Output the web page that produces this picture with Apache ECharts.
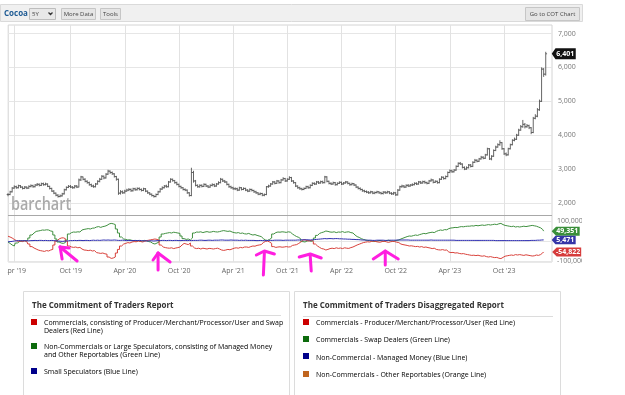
<!DOCTYPE html>
<html>
<head>
<meta charset="utf-8">
<script src="https://cdn.jsdelivr.net/npm/echarts@6/dist/echarts.min.js"></script>
<style>
html, body { margin: 0; padding: 0; background: #fff; }
#chart { width: 625px; height: 395px; }
</style>
</head>
<body>
<div id="chart"></div>
<script>
// weekly bars, first week = Monday 11 Mar 2019, five years shown
const startDate = '2019-03-11'
const weekCount = 262

// cocoa weekly close / high / low
const priceClose = [
  2250,2330,2440,2480,2450,2510,2470,2430,2470,2440,
  2490,2510,2480,2530,2550,2520,2570,2540,2560,2490,
  2430,2350,2290,2230,2190,2210,2270,2390,2460,2490,
  2470,2450,2500,2470,2680,2770,2700,2640,2600,2540,
  2500,2480,2560,2640,2700,2790,2740,2850,2940,2900,
  2860,2780,2700,2290,2330,2300,2350,2380,2400,2360,
  2420,2390,2430,2400,2370,2420,2350,2300,2260,2220,
  2190,2250,2330,2410,2450,2500,2480,2620,2700,2660,
  2600,2550,2490,2450,2400,2380,2300,2220,2900,2650,
  2520,2480,2520,2490,2550,2500,2470,2520,2540,2500,
  2560,2600,2700,2650,2620,2550,2480,2450,2420,2420,
  2380,2450,2400,2430,2380,2350,2400,2370,2330,2300,
  2260,2280,2230,2250,2480,2500,2560,2620,2580,2650,
  2600,2680,2720,2650,2700,2750,2650,2600,2500,2450,
  2420,2400,2430,2480,2450,2520,2580,2560,2620,2590,
  2630,2600,2770,2640,2580,2560,2600,2540,2580,2610,
  2560,2590,2620,2580,2540,2570,2530,2470,2430,2400,
  2360,2340,2320,2300,2330,2290,2310,2330,2300,2280,
  2320,2300,2330,2290,2270,2300,2240,2380,2480,2500,
  2470,2520,2500,2530,2540,2580,2560,2620,2590,2630,
  2600,2580,2650,2680,2610,2640,2600,2700,2760,2720,
  2780,2900,2950,2920,2970,3080,3170,3150,3050,3000,
  3040,3120,3080,3200,3260,3230,3300,3350,3320,3420,
  3600,3300,3380,3550,3650,3720,3780,3600,3450,3420,
  3600,3720,3850,3880,4000,4150,4250,4320,4250,4280,
  4220,4080,4500,4560,4750,5000,5950,5800,6401
]
const priceHigh = [
  2290,2360,2470,2520,2510,2540,2530,2490,2500,2490,
  2520,2550,2540,2560,2590,2580,2600,2600,2600,2580,
  2510,2450,2380,2310,2260,2250,2300,2420,2490,2530,
  2530,2500,2530,2530,2720,2800,2780,2730,2670,2630,
  2570,2540,2590,2670,2740,2820,2810,2880,2980,2960,
  2930,2880,2800,2720,2380,2370,2390,2420,2440,2430,
  2450,2450,2460,2460,2430,2450,2440,2370,2320,2280,
  2240,2280,2360,2440,2490,2530,2540,2650,2730,2720,
  2680,2630,2570,2510,2470,2430,2400,2320,3040,2950,
  2680,2550,2550,2550,2580,2570,2530,2550,2580,2570,
  2590,2640,2740,2720,2680,2640,2570,2510,2480,2460,
  2450,2480,2470,2460,2450,2410,2430,2420,2390,2360,
  2320,2310,2300,2280,2500,2540,2590,2650,2650,2680,
  2670,2710,2760,2740,2730,2790,2770,2670,2620,2520,
  2480,2450,2460,2510,2510,2550,2610,2610,2650,2650,
  2660,2660,2800,2790,2660,2610,2630,2620,2610,2640,
  2630,2620,2650,2640,2600,2600,2590,2550,2490,2460,
  2420,2390,2370,2350,2360,2350,2340,2360,2350,2330,
  2350,2350,2360,2350,2320,2330,2320,2410,2510,2540,
  2530,2550,2560,2560,2580,2610,2610,2650,2650,2660,
  2660,2630,2680,2720,2700,2670,2660,2730,2790,2780,
  2810,2930,2990,2980,3000,3110,3200,3210,3170,3080,
  3080,3150,3150,3230,3300,3290,3330,3390,3380,3450,
  3630,3620,3410,3580,3690,3760,3850,3800,3620,3490,
  3630,3750,3880,3930,4040,4190,4300,4450,4360,4330,
  4310,4240,4540,4620,4800,5050,6000,5980,6460
]
const priceLow = [
  2200,2230,2310,2420,2420,2430,2440,2400,2410,2410,
  2420,2460,2450,2460,2500,2490,2500,2510,2520,2470,
  2400,2330,2260,2200,2160,2170,2190,2250,2370,2440,
  2440,2420,2430,2440,2460,2650,2670,2610,2570,2510,
  2470,2450,2460,2540,2610,2680,2700,2720,2830,2860,
  2830,2750,2660,2240,2250,2270,2280,2330,2350,2330,
  2340,2360,2370,2370,2340,2350,2320,2270,2230,2190,
  2160,2170,2230,2310,2390,2430,2450,2460,2600,2630,
  2570,2520,2460,2420,2370,2350,2270,2190,2200,2600,
  2490,2450,2450,2460,2470,2470,2440,2450,2490,2470,
  2480,2540,2580,2620,2590,2520,2450,2420,2390,2380,
  2350,2360,2370,2380,2350,2320,2330,2340,2300,2270,
  2230,2230,2200,2200,2230,2450,2480,2540,2550,2560,
  2570,2580,2660,2620,2630,2680,2620,2570,2470,2420,
  2390,2370,2380,2410,2420,2430,2500,2530,2540,2560,
  2570,2570,2580,2610,2550,2530,2540,2510,2520,2560,
  2530,2540,2570,2550,2510,2520,2500,2440,2400,2370,
  2330,2310,2290,2270,2280,2260,2260,2280,2270,2250,
  2250,2270,2280,2260,2240,2240,2210,2220,2360,2450,
  2440,2450,2470,2480,2500,2520,2530,2540,2560,2570,
  2570,2550,2560,2630,2580,2590,2570,2580,2680,2690,
  2700,2760,2880,2890,2900,2950,3060,3120,3020,2970,
  2980,3020,3050,3060,3180,3200,3210,3280,3290,3300,
  3400,3270,3260,3360,3530,3630,3690,3570,3420,3380,
  3400,3580,3700,3820,3860,3980,4130,4220,4200,4220,
  4180,4030,4060,4470,4530,4720,4980,5720,5760
]

// net positions, thousands of contracts
const cotGreen = [
  -5,-12,-20,-25,
  -10,-3,0,2,0,3,
  15,30,40,
  48,50,52,55,54,56,55,50,48,
  30,10,-5,
  -10,-12,-8,5,
  35,42,45,44,46,45,
  55,58,60,62,60,64,65,
  70,72,68,72,74,78,
  85,88,86,82,
  60,40,20,
  10,8,5,6,3,
  2,0,2,-2,0,3,1,-3,-5,
  -12,-15,-10,-5,
  20,35,38,40,
  42,40,44,42,40,38,
  25,12,8,10,5,15,
  40,45,44,46,42,45,47,44,45,48,46,45,47,
  50,52,50,48,50,45,
  42,40,42,38,40,36,35,38,33,30,32,28,25,22,
  12,5,3,8,15,
  35,42,45,44,46,45,43,46,44,
  35,28,22,18,10,
  -3,-5,0,2,-2,3,
  15,28,38,42,45,50,48,
  45,44,46,42,45,44,47,43,45,46,42,40,
  30,22,18,12,8,
  5,3,2,0,-3,-2,1,3,0,-2,2,4,1,-1,0,3,5,
  10,14,18,22,25,24,27,30,28,
  32,35,38,36,40,42,44,42,
  48,52,55,53,57,56,
  62,65,66,68,67,70,72,71,73,74,
  74,76,75,78,76,78,80,78,80,82,80,82,84,82,86,88,
  82,78,76,74,72,74,70,72,70,72,74,72,74,76,78,
  76,74,70,66,58,49.351
]
const cotRed = [
  24,20,15,8,
  2,-2,0,-3,1,-2,
  -15,-28,-35,
  -40,-45,-48,-50,-52,-48,-50,-45,-42,
  -20,0,10,
  15,16,12,0,
  -25,-30,-32,-30,-34,-32,
  -40,-45,-46,-48,-46,-50,-48,
  -58,-60,-62,-60,-64,-66,
  -80,-87,-85,-80,
  -60,-42,-25,
  -15,-12,-8,-10,-5,
  -3,-4,0,-2,-5,-2,2,4,6,
  8,10,8,4,
  -20,-30,-33,-35,
  -36,-34,-38,-35,-33,-30,
  -20,-12,-15,-18,-10,-25,
  -35,-38,-36,-40,-36,-38,-40,-37,-38,-40,-38,-36,-40,
  -45,-47,-45,-42,-44,-40,
  -36,-34,-36,-32,-34,-30,-30,-32,-28,-25,-26,-22,-20,-18,
  -8,-2,0,-5,-12,
  -28,-32,-30,-29,-31,-30,-28,-30,-29,
  -22,-20,-18,-12,-5,
  5,6,2,0,3,-2,
  -15,-25,-32,-38,-40,-45,-42,
  -38,-36,-38,-34,-37,-35,-38,-34,-36,-37,-33,-30,
  -25,-20,-16,-12,-8,
  -6,-4,-5,-2,0,-3,-5,-6,-3,-1,-4,-7,-4,-2,-3,-6,-8,
  -15,-18,-20,-22,-25,-24,-26,-28,-27,
  -30,-28,-32,-30,-33,-35,-38,-36,
  -42,-44,-45,-43,-46,-45,
  -55,-58,-57,-60,-59,-62,-64,-63,-66,-68,
  -70,-72,-71,-73,-71,-74,-76,-74,-78,-80,-78,-81,-83,-82,-86,-88,
  -82,-76,-74,-72,-70,-72,-68,-70,-68,-70,-72,-69,-71,-73,-75,
  -74,-70,-72,-68,-60,-54.822
]
const cotBlue = [
  -4,-3,-2,0,1,2,2,1,2,1,
  1,2,2,3,2,3,3,2,3,2,
  2,3,2,1,0,-1,-2,-1,0,1,
  2,2,3,2,3,3,2,3,3,2,
  3,4,3,4,3,4,5,4,5,4,
  4,5,4,3,3,4,3,2,3,2,
  2,3,2,3,2,1,1,0,1,1,
  0,1,2,2,3,3,2,3,3,2,
  3,3,2,2,3,3,2,3,2,3,
  3,3,4,4,3,3,4,4,3,4,
  4,4,5,5,4,4,4,5,4,4,
  4,3,4,3,4,3,3,3,3,2,
  2,3,2,2,2,3,3,3,4,4,
  4,4,3,4,4,4,4,4,4,5,
  5,6,6,6,6,5,6,7,8,9,
  10,11,12,11,12,12,11,12,12,11,
  11,10,10,9,9,8,8,7,7,6,
  5,5,4,4,4,3,3,4,4,4,
  4,3,3,4,4,4,4,5,5,5,
  5,5,5,4,4,4,4,4,4,4,
  4,4,4,5,4,4,4,4,4,4,
  4,4,4,4,4,3,3,3,3,3,
  3,3,3,3,3,3,3,3,3,3,
  3,3,3,3,2,2,2,2,2,2,
  2,2,2,2,2,2,2,2,2,2,
  2,3,3,3,4,4,5,5.471
]

const priceTicks = [2000, 3000, 4000, 5000, 6000, 7000]
const cotTicks = [-100, 0, 100]

// hand-drawn magenta arrows: [week index, cot value at arrow tip]
const arrowAnchors = [[24.5, -30], [71.5, -60], [123.3, -50], [145, -65], [181, -50]]

const MONTHS = ['Jan','Feb','Mar','Apr','May','Jun','Jul','Aug','Sep','Oct','Nov','Dec']
const weeks = []
const t0 = new Date(startDate + 'T00:00:00Z').getTime()
for (let i = 0; i < weekCount; i++) {
  weeks.push(new Date(t0 + i * 7 * 864e5).toISOString().slice(0, 10))
}
const isHalfYear = (idx, v) => {
  const m = +v.slice(5, 7), d = +v.slice(8, 10)
  return (m === 4 || m === 10) && d <= 7
}
const fmtK = v => Math.round(v * 1000).toLocaleString('en-US')

const GRID_L = 8, GRID_R = 73
const FONT = '"Open Sans", sans-serif'

const ohlc = priceClose.map((c, i) => [i, i ? priceClose[i - 1] : c, c, priceLow[i], priceHigh[i]])

const tagPath = 'path://M0,5L5,0H32V10H5Z'
const tag = (xi, yi, idx, val, w, h, color, dx) => ({
  type: 'scatter', xAxisIndex: xi, yAxisIndex: yi, clip: false, silent: true, z: 10,
  data: [[idx, val]],
  symbol: tagPath, symbolKeepAspect: false, symbolSize: [w, h], symbolOffset: [dx, 0],
  itemStyle: { color: color, opacity: 1 },
  label: { show: true, position: 'inside', offset: [1.5, 0], formatter: () => val > 999 ? val.toLocaleString('en-US') : fmtK(val),
    color: '#fff', fontSize: 7, fontWeight: 'bold', fontFamily: FONT }
})

const cotLine = (data, color) => ({
  type: 'line', xAxisIndex: 2, yAxisIndex: 2, data: data, step: 'middle',
  symbol: 'none', lineStyle: { color: color, width: 1 }, silent: true
})

const chart = echarts.init(document.getElementById('chart'))

const text = (x, y, str, font, fill, align) => ({
  type: 'text', x: x, y: y, z: 50,
  style: { text: str, font: font, fill: fill, align: align || 'left', verticalAlign: 'middle' }
})
const btn = (x, w, label) => [
  { type: 'rect', z: 50, shape: { x: x + 0.5, y: 8.5, width: w, height: 11 }, style: { fill: '#e5e5e5', stroke: '#c6c6c6' } },
  text(x + w / 2 + 0.5, 14, label, '6px ' + FONT, '#444', 'center')
]
const sq = (x, y, c) => ({ type: 'rect', z: 50, shape: { x: x, y: y, width: 6, height: 6 }, style: { fill: c } })
const rich = {
  t: { fontSize: 7, fontFamily: FONT, color: '#555', lineHeight: 8 },
  r: { fontSize: 7, fontFamily: FONT, color: '#c0504d', lineHeight: 8 },
  g: { fontSize: 7, fontFamily: FONT, color: '#4f8f4f', lineHeight: 8 },
  b: { fontSize: 7, fontFamily: FONT, color: '#3c3ca0', lineHeight: 8 },
  o: { fontSize: 7, fontFamily: FONT, color: '#d2824a', lineHeight: 8 }
}
const rtext = (x, y, str) => ({ type: 'text', x: x, y: y, z: 50, style: { text: str, rich: rich, verticalAlign: 'top' } })

const graphics = [
  // toolbar
  { type: 'rect', z: 49, shape: { x: 0.5, y: 4.5, width: 582, height: 17 }, style: { fill: '#f0f0f0', stroke: '#dadada' } },
  text(4, 13.5, 'Cocoa', 'bold 8px ' + FONT, '#1e5b94'),
  { type: 'rect', z: 50, shape: { x: 29.5, y: 8.5, width: 26, height: 11 }, style: { fill: '#e8e8e8', stroke: '#bdbdbd' } },
  text(32, 14, '5Y', '6px ' + FONT, '#444'),
  { type: 'polyline', z: 51, shape: { points: [[48.5, 12.5], [50.5, 14.5], [52.5, 12.5]] }, style: { stroke: '#333', lineWidth: 1.3, fill: null } },
  ...btn(61, 34, 'More Data'),
  ...btn(100, 20, 'Tools'),
  { type: 'rect', z: 50, shape: { x: 525.5, y: 7.5, width: 54, height: 13 }, style: { fill: '#e5e5e5', stroke: '#c6c6c6' } },
  text(552.5, 14, 'Go to COT Chart', '6px ' + FONT, '#444', 'center'),
  // watermark
  { type: 'text', x: 11, y: 205, z: 1, scaleX: 0.8, style: { text: 'barchart', font: '600 18px ' + FONT, fill: '#aaaaaa', verticalAlign: 'middle' } },
  // panel separator
  { type: 'line', z: 5, shape: { x1: GRID_L, y1: 215.5, x2: 552, y2: 215.5 }, style: { stroke: '#a8a8a8', lineWidth: 1 } },
  // right and left edge of the page container
  { type: 'rect', z: 60, shape: { x: 582, y: 24, width: 43, height: 260 }, style: { fill: '#fff' } },
  { type: 'rect', z: 60, shape: { x: 0, y: 263, width: 7.5, height: 20 }, style: { fill: '#fff' } },
  // legend boxes
  { type: 'rect', z: 50, shape: { x: 23.5, y: 291.5, width: 266, height: 120 }, style: { fill: '#fff', stroke: '#dcdcdc' } },
  text(32, 306, 'The Commitment of Traders Report', 'bold 8px ' + FONT, '#333'),
  { type: 'line', z: 50, shape: { x1: 32, y1: 315.5, x2: 281, y2: 315.5 }, style: { stroke: '#dcdcdc' } },
  sq(31, 319, '#cc0000'),
  rtext(44, 318.5, '{t|Commercials, consisting of Producer/Merchant/Processor/User and Swap}\n{t|Dealers }{r|(Red Line)}'),
  sq(31, 343, '#0c6b0c'),
  rtext(44, 342.5, '{t|Non-Commercials or Large Speculators, consisting of Managed Money}\n{t|and Other Reportables }{g|(Green Line)}'),
  sq(31, 368, '#00008b'),
  rtext(44, 368, '{t|Small Speculators }{b|(Blue Line)}'),

  { type: 'rect', z: 50, shape: { x: 294.5, y: 291.5, width: 266, height: 120 }, style: { fill: '#fff', stroke: '#dcdcdc' } },
  text(303, 306, 'The Commitment of Traders Disaggregated Report', 'bold 8px ' + FONT, '#333'),
  { type: 'line', z: 50, shape: { x1: 303, y1: 316.5, x2: 553, y2: 316.5 }, style: { stroke: '#dcdcdc' } },
  sq(303, 319, '#cc0000'),
  rtext(316, 319, '{t|Commercials - Producer/Merchant/Processor/User }{r|(Red Line)}'),
  sq(303, 336, '#0c6b0c'),
  rtext(316, 336, '{t|Commercials - Swap Dealers }{g|(Green Line)}'),
  sq(303, 353, '#00008b'),
  rtext(316, 353.5, '{t|Non-Commercial - Managed Money }{b|(Blue Line)}'),
  sq(303, 371, '#c0651e'),
  rtext(316, 371, '{t|Non-Commercials - Other Reportables }{o|(Orange Line)}')
]

const hiddenX = i => ({ type: 'category', gridIndex: i, data: weeks, boundaryGap: false, show: false })

chart.setOption({
  animation: false,
  textStyle: { fontFamily: FONT },
  grid: [
    { left: GRID_L, right: GRID_R, top: 25, bottom: 133, show: true, borderColor: '#d4d4d4', borderWidth: 1 },
    { left: GRID_L, right: GRID_R, top: 33.5, height: 169.5 },
    { left: GRID_L, right: GRID_R, top: 221, height: 40 }
  ],
  xAxis: [
    {
      type: 'category', gridIndex: 0, data: weeks, boundaryGap: false,
      axisLine: { show: false }, axisTick: { show: false },
      axisLabel: { interval: isHalfYear, margin: 5, fontSize: 7, color: '#666',
        formatter: v => MONTHS[+v.slice(5, 7) - 1] + " '" + v.slice(2, 4) },
      splitLine: { show: true, interval: isHalfYear, lineStyle: { color: '#e2e2e2' } }
    },
    hiddenX(1),
    hiddenX(2)
  ],
  yAxis: [
    { type: 'value', gridIndex: 0, show: false },
    {
      type: 'value', gridIndex: 1, position: 'right',
      min: priceTicks[0], max: priceTicks[priceTicks.length - 1], interval: priceTicks[1] - priceTicks[0],
      axisLine: { show: false }, axisTick: { show: false },
      axisLabel: { margin: 6, fontSize: 7, color: '#777', formatter: v => v.toLocaleString('en-US') },
      splitLine: { lineStyle: { color: '#e6e6e6' } }
    },
    {
      type: 'value', gridIndex: 2, position: 'right',
      min: cotTicks[0], max: cotTicks[cotTicks.length - 1], interval: cotTicks[1] - cotTicks[0],
      axisLine: { show: false }, axisTick: { show: false },
      axisLabel: { margin: 5, fontSize: 7, color: '#777', formatter: v => v === 0 ? '' : fmtK(v) },
      splitLine: { lineStyle: { color: '#e6e6e6' } }
    }
  ],
  series: [
    {
      type: 'custom', xAxisIndex: 1, yAxisIndex: 1, data: ohlc, silent: true,
      encode: { x: 0, y: [1, 2, 3, 4] },
      renderItem: (params, api) => {
        const i = api.value(0)
        const o = api.coord([i, api.value(1)])
        const c = api.coord([i, api.value(2)])
        const lo = api.coord([i, api.value(3)])
        const hi = api.coord([i, api.value(4)])
        const x = hi[0]
        const st = { stroke: '#555', lineWidth: 0.9 }
        return {
          type: 'group', children: [
            { type: 'line', shape: { x1: x, y1: hi[1], x2: x, y2: lo[1] }, style: st },
            { type: 'line', shape: { x1: x - 1.3, y1: o[1], x2: x, y2: o[1] }, style: st },
            { type: 'line', shape: { x1: x, y1: c[1], x2: x + 1.3, y2: c[1] }, style: st }
          ]
        }
      }
    },
    cotLine(cotGreen, '#3f8f3f'),
    cotLine(cotRed, '#d8403a'),
    cotLine(cotBlue, '#2d2db0'),
    tag(1, 1, priceClose.length - 1, priceClose[priceClose.length - 1], 24, 11, '#111', 18),
    tag(2, 2, cotGreen.length - 1, cotGreen[cotGreen.length - 1], 28, 9, '#3a8f3a', 22),
    tag(2, 2, cotBlue.length - 1, cotBlue[cotBlue.length - 1], 24, 8.5, '#3535a8', 20),
    tag(2, 2, cotRed.length - 1, cotRed[cotRed.length - 1], 29, 9, '#d63c3c', 23)
  ],
  graphic: graphics
})

// arrows drawn over the chart, anchored to the cot panel scale
const arrowShapes = [
  [[[0, 0], [17, 14]], [[0, 0], [9, 1]], [[0, 0], [2, 12]]],
  [[[0, 0], [0, 17]], [[0, 0], [-5, 7]], [[0, 0], [12, 9]]],
  [[[0, 2], [-1, 24]], [[-8, 4], [0, 0], [10, 3]]],
  [[[0, 2], [1, 17]], [[-11, 3], [0, 0], [11, 4]]],
  [[[0, 0], [0, 14]], [[-12, 8], [0, 0], [13, 8]]]
]
const arrowEls = []
arrowAnchors.forEach((a, k) => {
  const p = chart.convertToPixel({ gridIndex: 2 }, a)
  arrowShapes[k].forEach(pts => {
    arrowEls.push({
      type: 'polyline', z: 70,
      shape: { points: pts.map(q => [p[0] + q[0], p[1] + q[1]]) },
      style: { stroke: '#ff1ee0', lineWidth: 3, lineCap: 'round', lineJoin: 'round', fill: null }
    })
  })
})
chart.setOption({ graphic: graphics.concat(arrowEls) })
</script>
</body>
</html>
